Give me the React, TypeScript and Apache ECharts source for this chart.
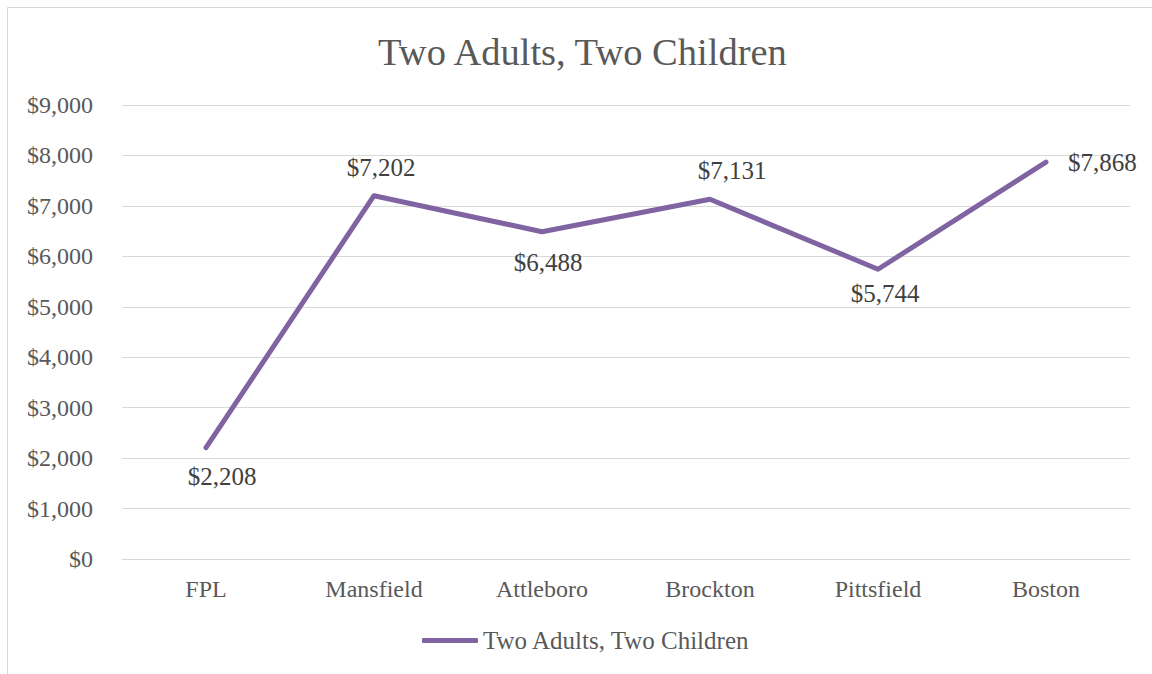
import React, { useEffect, useRef } from "react";
import * as echarts from "echarts";

const categories = ["FPL", "Mansfield", "Attleboro", "Brockton", "Pittsfield", "Boston"];
const values = [2208, 7202, 6488, 7131, 5744, 7868];
const labelPositions = ["bottom", "top", "bottom", "top", "bottom", "right"];
const labelOffsets = [[16, 0], [7, 0], [6, 2], [22, 0], [7, -4], [0, 0]];
const seriesName = "Two Adults, Two Children";
const titleText = "Two Adults, Two Children";

const FONT = "'Liberation Serif', 'DejaVu Serif', serif";

export default function App() {
  const ref = useRef<HTMLDivElement>(null);
  useEffect(() => {
    document.body.style.margin = "0";
    const chart = echarts.init(ref.current!, null, { renderer: "svg" });
    const fmt = (v: number) => "$" + v.toLocaleString("en-US");
    chart.setOption({
      animation: false,
      backgroundColor: "#ffffff",
      title: {
        text: titleText,
        left: 378,
        top: 32,
        padding: 0,
        textStyle: { fontFamily: FONT, fontSize: 38.5, fontWeight: "normal", color: "#595959" },
      },
      graphic: [
        {
          type: "rect",
          shape: { x: 7.5, y: 7.5, width: 1170, height: 700 },
          style: { fill: "none", stroke: "#d9d9d9", lineWidth: 1 },
          silent: true,
        },
      ],
      grid: { left: 122, right: 22, top: 105, bottom: 115, containLabel: false },
      legend: {
        data: [{ name: seriesName, icon: "roundRect" }],
        left: 417,
        top: 623,
        itemWidth: 56,
        itemHeight: 5,
        textStyle: { fontFamily: FONT, fontSize: 25, color: "#595959" },
      },
      xAxis: {
        type: "category",
        data: categories,
        boundaryGap: true,
        axisLine: { show: true, lineStyle: { color: "#d9d9d9", width: 1 } },
        axisTick: { show: false },
        axisLabel: { margin: 18, fontFamily: FONT, fontSize: 24, color: "#595959" },
      },
      yAxis: {
        type: "value",
        min: 0,
        max: 9000,
        interval: 1000,
        axisLine: { show: false },
        axisTick: { show: false },
        splitLine: { lineStyle: { color: "#d9d9d9", width: 1 } },
        axisLabel: {
          margin: 29,
          fontFamily: FONT,
          fontSize: 24,
          color: "#595959",
          formatter: (v: number) => fmt(v),
        },
      },
      series: [
        {
          name: seriesName,
          type: "line",
          symbol: "circle",
          symbolSize: 0.01,
          showSymbol: true,
          data: values.map((v, i) => ({
            value: v,
            label: {
              position: labelPositions[i],
              distance: labelPositions[i] === "right" ? 22 : 16,
              offset: labelOffsets[i],
            },
          })),
          lineStyle: { color: "#8064a2", width: 5, cap: "round", join: "round" },
          itemStyle: { color: "#8064a2" },
          label: {
            show: true,
            fontFamily: FONT,
            fontSize: 25,
            color: "#404040",
            formatter: (p: any) => fmt(p.value),
          },
        },
      ],
    });
    return () => chart.dispose();
  }, []);
  return <div ref={ref} style={{ width: 1152, height: 674 }} />;
}
